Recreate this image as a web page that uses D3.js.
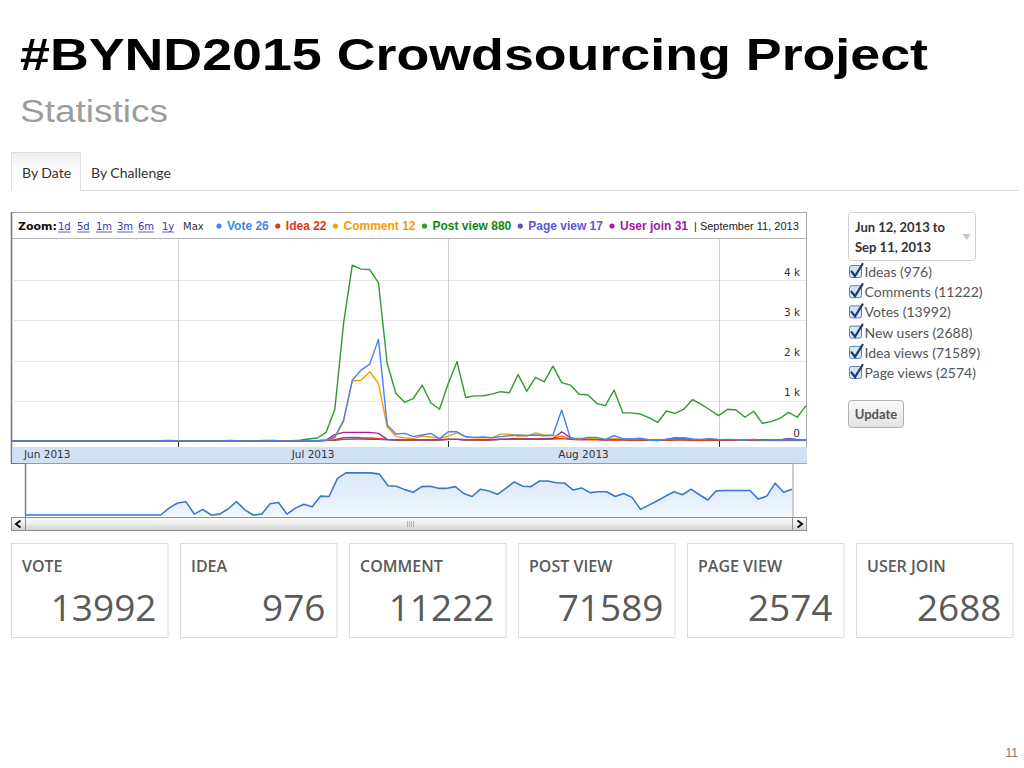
<!DOCTYPE html>
<html><head><meta charset="utf-8">
<script src="https://cdn.jsdelivr.net/npm/d3@7"></script>
<style>
html,body{margin:0;padding:0;background:#fff;}
svg{display:block;}
</style></head><body>
<svg id="c" width="1024" height="768"></svg>
<script>
// ---------------- DATA ----------------
const titleText = "#BYND2015 Crowdsourcing Project";
const subtitleText = "Statistics";
const tabLabels = ["By Date", "By Challenge"];
const startDate = new Date(2013, 5, 12);
const endDate = new Date(2013, 8, 11);
const zoomLinks = ["1d", "5d", "1m", "3m", "6m", "1y"];
const headerDate = "September 11, 2013";

const seriesNames = ["Vote", "Idea", "Comment", "Post view", "Page view", "User join"];
const seriesColors = ["#4684ee", "#dc3912", "#ff9900", "#2f9a2f", "#5552d0", "#a81ca6"];
const legendTextColors = ["#4684ee", "#dc3912", "#ff9900", "#0f870f", "#5a57d8", "#a0189e"];

// daily values Jun 12 .. Sep 11 2013 (92 days)
const vote = [0,0,0,0,0,0,0,0,0,0,0,0,0,0,0,0,0,
  3,5,2,0,2,0,0,4,6,2,0,0,3,5,0,2,4,8,10,20,
  100,520,1510,1760,1910,2530,400,175,190,110,150,190,60,230,230,105,90,100,80,110,130,150,140,150,130,150,770,65,40,90,90,40,130,60,50,70,20,10,40,60,80,50,40,60,30,40,30,20,40,20,30,20,30,20,26];
const idea = [0,0,0,0,0,0,0,0,0,0,0,0,0,0,0,0,0,
  0,0,0,0,0,0,0,0,0,0,0,0,0,0,0,0,0,2,5,10,
  30,80,90,80,75,60,40,30,25,30,35,25,30,40,40,30,30,25,30,40,45,50,40,50,45,50,60,40,30,35,30,25,30,25,20,25,15,15,20,25,25,20,25,20,20,20,15,15,20,15,20,15,25,20,22];
const comment = [0,0,0,0,0,0,0,0,0,0,0,0,0,0,0,0,0,
  0,0,0,0,0,0,0,0,0,0,0,0,0,0,0,0,0,0,5,20,
  80,480,1490,1510,1720,1430,355,110,80,60,120,100,60,120,200,100,80,80,80,170,170,120,120,200,150,130,110,60,70,50,60,40,50,40,40,30,20,20,30,25,40,20,30,15,20,20,20,15,10,10,15,10,20,10,12];
const postView = [0,0,0,0,0,0,0,0,0,0,0,0,0,0,0,0,0,
  8,12,10,0,5,0,3,10,15,6,0,0,12,14,3,10,20,50,75,215,
  790,2920,4370,4270,4260,3930,1930,1180,960,1060,1390,950,790,1430,1970,1080,1120,1125,1165,1225,1200,1650,1240,1580,1470,1860,1450,1390,1160,1150,935,875,1265,700,700,670,580,460,745,685,790,1030,910,770,630,790,770,590,740,440,480,560,710,590,880];
const pageView = [0,0,0,0,0,0,0,0,0,0,0,0,0,0,0,0,0,
  5,8,5,0,3,0,2,6,8,3,0,0,5,6,0,3,5,8,10,15,
  20,40,50,50,45,40,30,25,20,25,30,25,30,40,40,30,30,25,30,40,45,60,50,60,55,70,120,50,40,45,40,35,40,40,60,50,30,20,40,80,70,40,35,40,30,35,30,30,35,25,30,25,50,30,17];
const userJoin = [0,0,0,0,0,0,0,0,0,0,0,0,0,0,0,0,0,
  0,0,0,0,0,0,0,0,0,0,0,0,0,0,0,0,0,0,5,20,
  160,215,215,215,215,190,40,30,25,30,35,30,30,40,40,30,35,30,35,40,45,50,45,50,50,55,230,80,40,45,40,35,40,35,30,30,25,25,40,45,50,40,35,40,30,35,30,30,35,25,30,25,60,30,31];
// navigator overview line (relative index 0..100)
const navValues = [0,0,0,0,0,0,0,0,0,0,0,0,0,0,0,0,0,
  16,28,31,2,13,0,2,14,31,12,0,2,26,29,2,16,25,19,44,43,85,98,98,98,98,95,68,67,59,53,66,67,62,62,66,50,43,60,56,48,62,77,67,66,79,79,75,74,58,63,52,54,54,43,50,41,13,23,33,44,54,47,60,47,35,56,57,57,57,57,37,44,74,53,60];

const yTicks = [0, 1000, 2000, 3000, 4000];

const dateRangeText = ["Jun 12, 2013 to", "Sep 11, 2013"];
const panelLabels = ["Ideas", "Comments", "Votes", "New users", "Idea views", "Page views"];
const panelCounts = [976, 11222, 13992, 2688, 71589, 2574];
const buttonLabel = "Update";

const statLabels = ["VOTE", "IDEA", "COMMENT", "POST VIEW", "PAGE VIEW", "USER JOIN"];
const statValues = [13992, 976, 11222, 71589, 2574, 2688];
const pageNumber = "11";

// ---------------- DRAW ----------------
const svg = d3.select("#c");
const SANS = "'Liberation Sans', Arial, sans-serif";
const VER = "'DejaVu Sans', Verdana, sans-serif";
const UI = "Lato, 'Open Sans', sans-serif";
const defs = svg.append("defs");

// Title
svg.append("text").attr("x", 20).attr("y", 70)
  .attr("font-family", SANS).attr("font-weight", "bold").attr("font-size", 45)
  .attr("textLength", 908).attr("lengthAdjust", "spacingAndGlyphs")
  .attr("fill", "#000").text(titleText);
svg.append("text").attr("x", 20).attr("y", 122)
  .attr("font-family", SANS).attr("font-size", 31)
  .attr("textLength", 148).attr("lengthAdjust", "spacingAndGlyphs")
  .attr("fill", "#9c9c9c").text(subtitleText);

// Tabs
const tabGrad = defs.append("linearGradient").attr("id", "tabg").attr("x1", 0).attr("y1", 0).attr("x2", 0).attr("y2", 1);
tabGrad.append("stop").attr("offset", 0).attr("stop-color", "#ececec");
tabGrad.append("stop").attr("offset", 0.35).attr("stop-color", "#fbfbfb");
tabGrad.append("stop").attr("offset", 1).attr("stop-color", "#ffffff");
svg.append("path").attr("d", "M11.5,190 V152.5 H80.5 V190").attr("fill", "url(#tabg)").attr("stroke", "#dedede");
svg.append("line").attr("x1", 80).attr("x2", 1019).attr("y1", 190.5).attr("y2", 190.5).attr("stroke", "#dcdcdc");
svg.append("text").attr("x", 22).attr("y", 178).attr("font-family", UI).attr("font-size", 14).attr("fill", "#333").text(tabLabels[0]);
svg.append("text").attr("x", 91).attr("y", 178).attr("font-family", UI).attr("font-size", 14).attr("fill", "#333").text(tabLabels[1]);

// Chart frame
const L = 12, R = 806, plotTop = 239, base = 441;
svg.append("rect").attr("x", 11.5).attr("y", 212.5).attr("width", 795).attr("height", 251)
  .attr("fill", "#fff").attr("stroke", "#a8a8a8");
svg.append("line").attr("x1", 11).attr("x2", 807).attr("y1", 238.5).attr("y2", 238.5).attr("stroke", "#b8b8b8");
svg.append("line").attr("x1", 11.5).attr("x2", 11.5).attr("y1", 212).attr("y2", 464).attr("stroke", "#7a7a7a").attr("stroke-width", 1.6);

// Scales
const x = d3.scaleTime().domain([startDate, endDate]).range([L, R]);
const y = d3.scaleLinear().domain([0, 4000]).range([base, 280]);
const dates = d3.timeDay.range(startDate, d3.timeDay.offset(endDate, 1));

// Gridlines
svg.append("g").selectAll("line").data(yTicks.filter(d => d > 0)).join("line")
  .attr("x1", L).attr("x2", R).attr("y1", d => Math.round(y(d)) + 0.5).attr("y2", d => Math.round(y(d)) + 0.5)
  .attr("stroke", "#e9e9e9");
const monthStarts = d3.timeMonth.range(d3.timeMonth.ceil(startDate), endDate);
svg.append("g").selectAll("line").data(monthStarts).join("line")
  .attr("x1", d => Math.round(x(d)) + 0.5).attr("x2", d => Math.round(x(d)) + 0.5)
  .attr("y1", plotTop).attr("y2", base).attr("stroke", "#d0d0d0");

// Axis band
svg.append("rect").attr("x", L).attr("y", 447).attr("width", R - L + 1).attr("height", 16).attr("fill", "#d0e1f5");
svg.append("g").selectAll("line").data(monthStarts).join("line")
  .attr("x1", d => Math.round(x(d)) + 0.5).attr("x2", d => Math.round(x(d)) + 0.5)
  .attr("y1", base).attr("y2", 447).attr("stroke", "#333");
const monthLabels = d3.timeMonth.range(d3.timeMonth.floor(startDate), endDate);
monthLabels.forEach(m => {
  const next = d3.timeMonth.offset(m, 1);
  const fmt = d3.timeFormat("%b %Y")(m);
  if (x(m) < L) {
    svg.append("text").attr("x", 24).attr("y", 458).attr("font-family", VER).attr("font-size", 10.5).attr("fill", "#333").text(fmt);
  } else {
    const c = (x(m) + x(next)) / 2;
    if (c < R - 30) svg.append("text").attr("x", c).attr("y", 458).attr("text-anchor", "middle")
      .attr("font-family", VER).attr("font-size", 10.5).attr("fill", "#333").text(fmt);
  }
});

// Y labels
svg.append("g").selectAll("text").data(yTicks).join("text")
  .attr("x", 800).attr("y", d => y(d) - 4.5).attr("text-anchor", "end")
  .attr("font-family", VER).attr("font-size", 10.5).attr("fill", "#333")
  .text(d => d === 0 ? "0" : (d / 1000) + " k");

// Lines
defs.append("clipPath").attr("id", "clipMain").append("rect").attr("x", L).attr("y", plotTop).attr("width", R - L + 1).attr("height", base - plotTop + 2);
const allSeries = [vote, idea, comment, postView, pageView, userJoin];
const line = d3.line().x((d, i) => x(dates[i])).y(d => y(d));
const drawOrder = [5, 4, 3, 2, 1, 0];
const gl = svg.append("g").attr("clip-path", "url(#clipMain)");
drawOrder.forEach(i => {
  gl.append("path").attr("d", line(allSeries[i])).attr("fill", "none")
    .attr("stroke", seriesColors[i]).attr("stroke-width", 1.4).attr("stroke-linejoin", "round");
});

// Header
const hy = 229.5;
svg.append("text").attr("x", 18).attr("y", hy).attr("font-family", VER).attr("font-weight", "bold").attr("font-size", 11).attr("fill", "#111").text("Zoom:");
const linkX = [58, 77, 96, 117, 138, 162];
zoomLinks.forEach((t, i) => {
  const tx = svg.append("text").attr("x", linkX[i]).attr("y", hy).attr("font-family", VER).attr("font-size", 10).attr("fill", "#3333bb").text(t);
  const w = tx.node().getComputedTextLength();
  svg.append("line").attr("x1", linkX[i]).attr("x2", linkX[i] + w).attr("y1", hy + 2.5).attr("y2", hy + 2.5).attr("stroke", "#3333bb").attr("stroke-width", 0.8);
});
svg.append("text").attr("x", 183).attr("y", hy).attr("font-family", VER).attr("font-size", 10).attr("fill", "#333").text("Max");
let lx = 219;
seriesNames.forEach((n, i) => {
  const ser = allSeries[i];
  svg.append("circle").attr("cx", lx).attr("cy", hy - 3.5).attr("r", 2.6).attr("fill", seriesColors[i]);
  const t = svg.append("text").attr("x", lx + 8).attr("y", hy).attr("font-family", SANS).attr("font-weight", "bold")
    .attr("font-size", 12).attr("fill", legendTextColors[i]).text(n + " " + ser[ser.length - 1]);
  lx = lx + 8 + t.node().getComputedTextLength() + 9;
});
svg.append("text").attr("x", lx - 3).attr("y", hy).attr("font-family", SANS).attr("font-size", 11).attr("fill", "#222").text("| " + headerDate);

// Navigator
const nx = d3.scaleTime().domain([startDate, endDate]).range([26, 792]);
const ny = d3.scaleLinear().domain([0, 100]).range([515, 472]);
svg.append("rect").attr("x", 25.5).attr("y", 463.5).attr("width", 767.5).attr("height", 54).attr("fill", "#fff").attr("stroke", "#9a9a9a");
svg.append("line").attr("x1", 11).attr("x2", 26).attr("y1", 463.5).attr("y2", 463.5).attr("stroke", "#7a7a7a");
svg.append("line").attr("x1", 25.5).attr("x2", 25.5).attr("y1", 463).attr("y2", 518).attr("stroke", "#7a7a7a").attr("stroke-width", 1.4);
const navGrad = defs.append("linearGradient").attr("id", "navg").attr("x1", 0).attr("y1", 0).attr("x2", 0).attr("y2", 1);
navGrad.append("stop").attr("offset", 0).attr("stop-color", "#dbe9fa");
navGrad.append("stop").attr("offset", 1).attr("stop-color", "#eef5fd");
const navArea = d3.area().x((d, i) => nx(dates[i])).y0(516).y1(d => ny(d));
const navLine = d3.line().x((d, i) => nx(dates[i])).y(d => ny(d));
svg.append("path").attr("d", navArea(navValues)).attr("fill", "url(#navg)");
svg.append("path").attr("d", navLine(navValues)).attr("fill", "none").attr("stroke", "#3a77d2").attr("stroke-width", 1.6).attr("stroke-linejoin", "round");

// Scrollbar
const sbGrad = defs.append("linearGradient").attr("id", "sbg").attr("x1", 0).attr("y1", 0).attr("x2", 0).attr("y2", 1);
sbGrad.append("stop").attr("offset", 0).attr("stop-color", "#fbfbfb");
sbGrad.append("stop").attr("offset", 0.5).attr("stop-color", "#ececec");
sbGrad.append("stop").attr("offset", 1).attr("stop-color", "#cfcfcf");
svg.append("rect").attr("x", 11.5).attr("y", 517.5).attr("width", 795).attr("height", 13).attr("fill", "url(#sbg)").attr("stroke", "#8e8e8e");
svg.append("line").attr("x1", 25.5).attr("x2", 25.5).attr("y1", 518).attr("y2", 530).attr("stroke", "#8e8e8e");
svg.append("line").attr("x1", 792.5).attr("x2", 792.5).attr("y1", 518).attr("y2", 530).attr("stroke", "#8e8e8e");
svg.append("path").attr("d", "M20.5,520.5 L16,524 L20.5,527.5").attr("fill", "none").attr("stroke", "#111").attr("stroke-width", 2);
svg.append("path").attr("d", "M797.5,520.5 L802,524 L797.5,527.5").attr("fill", "none").attr("stroke", "#111").attr("stroke-width", 2);
[407.5, 409.5, 411.5, 413.5].forEach(gx => svg.append("line").attr("x1", gx).attr("x2", gx).attr("y1", 521).attr("y2", 527).attr("stroke", "#b5b5b5"));

// Right panel: dropdown
svg.append("rect").attr("x", 848.5).attr("y", 212.5).attr("width", 127).attr("height", 48).attr("rx", 3)
  .attr("fill", "#fff").attr("stroke", "#d0d0d0");
svg.append("text").attr("x", 855).attr("y", 231.5).attr("font-family", UI).attr("font-weight", "bold").attr("font-size", 13).attr("fill", "#333").text(dateRangeText[0]);
svg.append("text").attr("x", 855).attr("y", 251.5).attr("font-family", UI).attr("font-weight", "bold").attr("font-size", 13).attr("fill", "#333").text(dateRangeText[1]);
svg.append("path").attr("d", "M962.5,234 L971,234 L966.75,240 Z").attr("fill", "#c4c4c4");

// Checkboxes
panelLabels.forEach((lab, i) => {
  const cy = 265.5 + i * 20.2;
  svg.append("rect").attr("x", 849.5).attr("y", cy).attr("width", 12).attr("height", 12).attr("rx", 2)
    .attr("fill", "#d5e4f6").attr("stroke", "#5f7fb0");
  svg.append("path").attr("d", `M851.5,${cy + 6} L855,${cy + 10.5} L862.5,${cy - 1.5}`)
    .attr("fill", "none").attr("stroke", "#1c3b6d").attr("stroke-width", 2.2).attr("stroke-linecap", "round");
  svg.append("text").attr("x", 864.5).attr("y", cy + 11.5).attr("font-family", UI).attr("font-size", 14)
    .attr("fill", "#555").text(`${lab} (${panelCounts[i]})`);
});

// Update button
const btnGrad = defs.append("linearGradient").attr("id", "btng").attr("x1", 0).attr("y1", 0).attr("x2", 0).attr("y2", 1);
btnGrad.append("stop").attr("offset", 0).attr("stop-color", "#fafafa");
btnGrad.append("stop").attr("offset", 1).attr("stop-color", "#e2e2e2");
svg.append("rect").attr("x", 848.5).attr("y", 400.5).attr("width", 55).attr("height", 27).attr("rx", 3)
  .attr("fill", "url(#btng)").attr("stroke", "#b0b0b0");
svg.append("text").attr("x", 876).attr("y", 419).attr("text-anchor", "middle").attr("font-family", UI).attr("font-weight", "bold")
  .attr("font-size", 13).attr("fill", "#555").text(buttonLabel);

// Stat boxes
statLabels.forEach((lab, i) => {
  const bx = 11.5 + i * 169;
  svg.append("rect").attr("x", bx).attr("y", 543.5).attr("width", 156.5).attr("height", 94).attr("fill", "#fff").attr("stroke", "#dcdcdc");
  svg.append("text").attr("x", bx + 10.5).attr("y", 571.5).attr("font-family", "'Open Sans', Lato, sans-serif").attr("font-weight", 600)
    .attr("font-size", 16).attr("fill", "#5a5a5a").text(lab);
  svg.append("text").attr("x", bx + 145).attr("y", 621).attr("text-anchor", "end").attr("font-family", "'Open Sans', Lato, sans-serif")
    .attr("font-size", 37).attr("fill", "#5a5a5a").text(statValues[i]);
});

// Page number
svg.append("text").attr("x", 1018).attr("y", 757).attr("text-anchor", "end").attr("font-family", SANS).attr("font-size", 12).attr("fill", "#777").text(pageNumber);
</script>
</body></html>
